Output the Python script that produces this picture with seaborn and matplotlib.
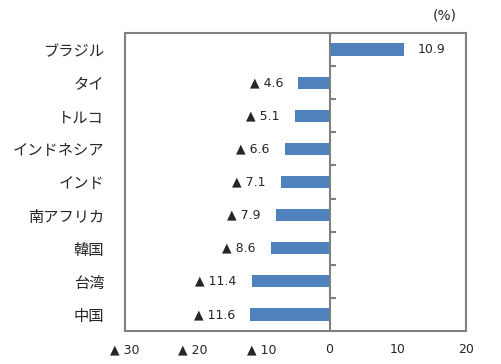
import numpy as np
import matplotlib
matplotlib.use("Agg")
import matplotlib.pyplot as plt
import seaborn as sns

# data
countries = ["ブラジル", "タイ", "トルコ", "インドネシア", "インド",
             "南アフリカ", "韓国", "台湾", "中国"]
values = [10.9, -4.6, -5.1, -6.6, -7.1, -7.9, -8.6, -11.4, -11.6]
xticks = [-30, -20, -10, 0, 10, 20]
xticklabels = ["▲ 30", "▲ 20", "▲ 10", "0", "10", "20"]

sns.set_style("white")
plt.rcParams["font.family"] = ["Noto Sans CJK JP", "DejaVu Sans"]

fig = plt.figure(figsize=(5.01, 3.64), dpi=100)
ax = fig.add_axes([0.2495, 0.0907, 0.6806, 0.8187])

bar_color = "#4F81BD"
grey = "#808080"
txt = "#262626"
num_font = ["DejaVu Sans"]

sns.barplot(x=values, y=countries, orient="h", color=bar_color,
            width=0.37, saturation=1, linewidth=0, ax=ax)

ax.set_xlim(-30, 20)
ax.set_ylim(len(countries) - 0.5, -0.5)
ax.set_xticks(xticks)
ax.set_xticklabels(xticklabels, fontsize=9, color=txt, family=num_font)
ax.tick_params(axis="x", direction="in", length=4, width=1.2, color=grey, pad=9)
ax.tick_params(axis="y", length=0, pad=15, labelsize=11, labelcolor=txt)
ax.set_xlabel("")
ax.set_ylabel("")

for s in ax.spines.values():
    s.set_color(grey)
    s.set_linewidth(1.5)

# zero line with small category ticks
ax.axvline(0, color=grey, lw=1.5, zorder=3)
bounds = np.arange(len(countries) - 1) + 0.5
ax.hlines(bounds, 0, 0.9, color=grey, lw=1.5, zorder=3)

# value labels
for i, v in enumerate(values):
    if v >= 0:
        ax.annotate(f"{v:.1f}", (v, i), xytext=(10, 0), textcoords="offset points",
                    ha="left", va="center", fontsize=9, color=txt, family=num_font)
    else:
        ax.annotate(f"▲ {abs(v):.1f}", (v, i), xytext=(-11, 0), textcoords="offset points",
                    ha="right", va="center", fontsize=9, color=txt, family=num_font)

fig.text(0.888, 0.958, "(%)", ha="center", va="center", fontsize=10, color=txt,
         family=num_font)

fig.savefig("out.png", dpi=100)
